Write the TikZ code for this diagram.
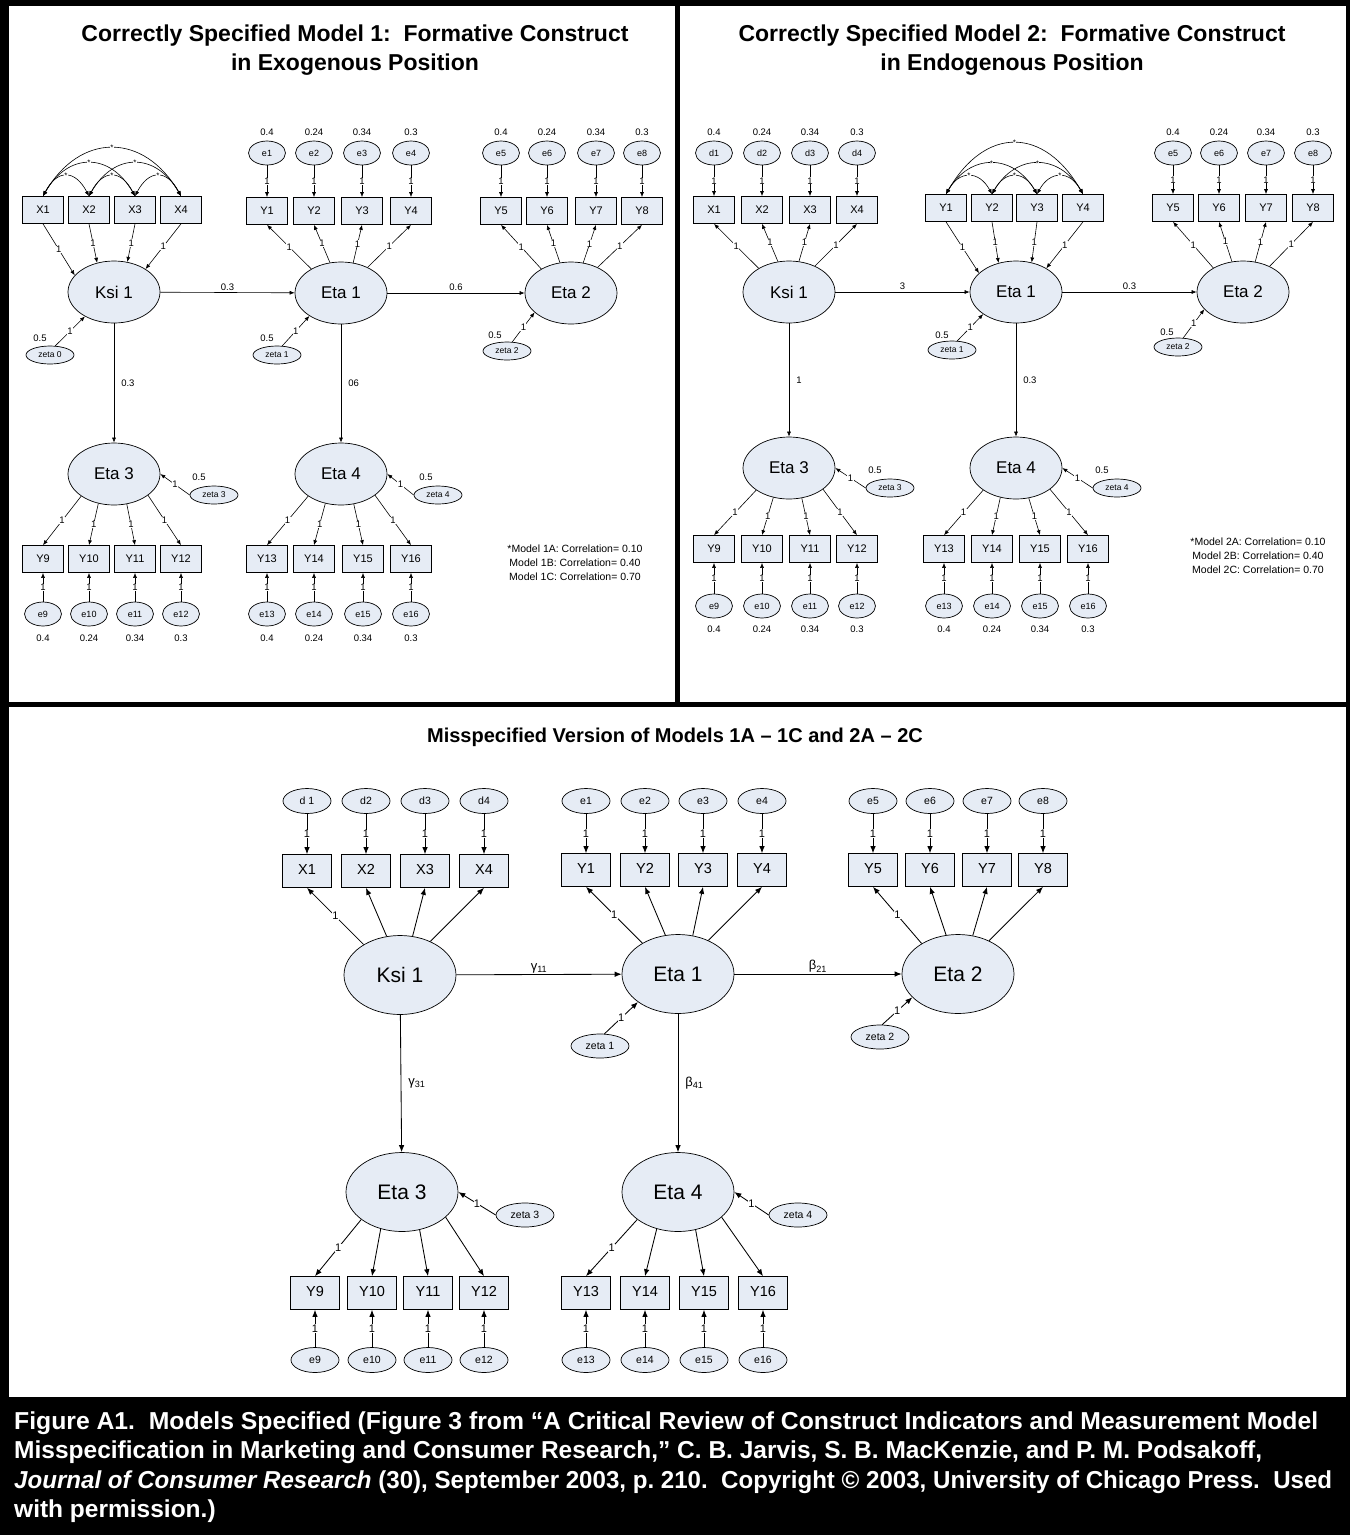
\documentclass[tikz,border=0pt]{standalone}
\usepackage{fontspec}
\usepackage{graphicx}
\setmainfont{Liberation Sans}
\usetikzlibrary{arrows.meta,shapes.geometric}
\definecolor{nodefill}{HTML}{E6ECF5}
\newcommand{\fsz}[1]{\fontsize{#1}{#1}\selectfont}
\newcommand{\dsp}{\hspace{0.556em}}
\begin{document}
\frenchspacing
\begin{tikzpicture}[x=1pt,y=-1pt,
  box/.style={draw, fill=nodefill, rectangle, inner sep=0pt, line width=0.7pt, text height=0.72em, text depth=0pt},
  tbox/.style={box, minimum width=41pt, minimum height=27pt, font=\fsz{11}},
  bbox/.style={box, minimum width=49pt, minimum height=33pt, font=\fsz{14.5}},
  lat/.style={draw, fill=nodefill, ellipse, inner sep=0pt, line width=0.7pt},
  tbig/.style={lat, minimum width=92pt, minimum height=62pt, font=\fsz{17}},
  bbig/.style={lat, minimum width=112pt, minimum height=79pt, font=\fsz{21}},
  tsm/.style={lat, minimum width=37pt, minimum height=24pt, font=\fsz{9}},
  bsm/.style={lat, minimum width=48pt, minimum height=25pt, font=\fsz{10.5}},
  tzeta/.style={lat, minimum width=48pt, minimum height=18pt, font=\fsz{8.5}},
  bzeta/.style={lat, minimum width=58pt, minimum height=24pt, font=\fsz{10.5}},
  val/.style={font=\fsz{9.5}, inner sep=0pt},
  bval/.style={font=\fsz{13}, inner sep=0pt},
  one/.style={font=\fsz{9.5}, fill=white, inner sep=0.4pt},
  bone/.style={font=\fsz{11}, fill=white, inner sep=0.4pt},
  star/.style={font=\fsz{8}, fill=white, inner sep=0.2pt},
  tarr/.style={line width=0.6pt, -{Latex[length=5pt,width=4pt]}},
  barr/.style={line width=0.85pt, -{Latex[length=7pt,width=5.5pt]}},
  corr/.style={line width=0.6pt, {Latex[length=5pt,width=4pt]}-{Latex[length=5pt,width=4pt]}},
  ttl/.style={font=\fsz{23}\bfseries, inner sep=0pt},
  ttlb/.style={font=\fsz{20}\bfseries, inner sep=0pt},
  capt/.style={font=\fsz{24.5}\bfseries, text=white, inner sep=0pt, anchor=base west},
  note/.style={font=\fontsize{10.5}{14}\selectfont, align=center, inner sep=0pt}
]
\useasboundingbox (0,0) rectangle (1350,1535);
\fill[black] (0,0) rectangle (1350,1535);
\fill[white] (9,6) rectangle (675,702);
\fill[white] (680,6) rectangle (1346,702);
\fill[white] (9,707) rectangle (1346,1397);

% ---------- titles ----------
\node[ttl, anchor=base] (t1a) at (355,41) {Correctly Specified Model 1:\dsp Formative Construct};
\node[ttl, anchor=base] (t1b) at (355,70) {in Exogenous Position};
\node[ttl, anchor=base] (t2a) at (1012,41) {Correctly Specified Model 2:\dsp Formative Construct};
\node[ttl, anchor=base] (t2b) at (1012,70) {in Endogenous Position};
\node[ttlb, anchor=base] (t3) at (675,742) {Misspecified Version of Models 1A – 1C and 2A – 2C};

% ---------- caption ----------
\node[capt] (c1) at (14,1429) {\resizebox{1304pt}{\height}{Figure A1.\dsp Models Specified (Figure 3 from “A Critical Review of Construct Indicators and Measurement Model}};
\node[capt] (c2) at (14,1458) {Misspecification in Marketing and Consumer Research,” C. B. Jarvis, S. B. MacKenzie, and P. M. Podsakoff,};
\node[capt] (c3) at (14,1488) {\resizebox{1318pt}{\height}{\textit{Journal of Consumer Research} (30), September 2003, p. 210.\dsp Copyright © 2003, University of Chicago Press.\dsp Used}};
\node[capt] (c4) at (14,1517) {with permission.)};

% ================= PANEL A (top left) =================
\foreach \i/\x in {1/43,2/89,3/135,4/181} \node[tbox] (AX\i) at (\x,210) {X\i};
\draw[corr] (AX1.north) .. controls +(37,-64) and +(-37,-64) .. (AX4.north) node[star,pos=.5]{*};
\draw[corr] (AX1.north) .. controls +(25,-44) and +(-25,-44) .. (AX3.north) node[star,pos=.5]{*};
\draw[corr] (AX2.north) .. controls +(25,-44) and +(-25,-44) .. (AX4.north) node[star,pos=.5]{*};
\draw[corr] (AX1.north) .. controls +(14,-27) and +(-14,-27) .. (AX2.north) node[star,pos=.5]{*};
\draw[corr] (AX2.north) .. controls +(14,-27) and +(-14,-27) .. (AX3.north) node[star,pos=.5]{*};
\draw[corr] (AX3.north) .. controls +(14,-27) and +(-14,-27) .. (AX4.north) node[star,pos=.5]{*};

\node[tbig] (AKsi) at (114,292) {Ksi 1};
\node[tbig] (AEta1) at (341,293) {Eta 1};
\node[tbig] (AEta2) at (571,293) {Eta 2};
\node[tbig] (AEta3) at (114,474) {Eta 3};
\node[tbig] (AEta4) at (341,474) {Eta 4};

\foreach \i/\ang in {1/157,2/120,3/66,4/36} \draw[tarr] (AX\i.south) -- (AKsi.\ang) node[one,pos=.5]{1};

\foreach \i/\x/\v in {1/267/0.4,2/314/0.24,3/362/0.34,4/411/0.3,5/501/0.4,6/547/0.24,7/596/0.34,8/642/0.3} {
  \node[tbox] (AY\i) at (\x,211) {Y\i};
  \node[tsm] (Ae\i) at (\x,153) {e\i};
  \node[val] (Ave\i) at (\x,132) {\v};
  \draw[tarr] (Ae\i) -- (AY\i) node[one,pos=.5]{1};
}
\foreach \i/\ang in {1/141,2/110,3/68,4/44} \draw[tarr] (AEta1.\ang) -- (AY\i.south) node[one,pos=.5]{1};
\foreach \i/\ang in {5/141,6/110,7/68,8/44} \draw[tarr] (AEta2.\ang) -- (AY\i.south) node[one,pos=.5]{1};

\draw[tarr] (AKsi) -- (AEta1) node[val,pos=.5,above=2pt]{0.3};
\draw[tarr] (AEta1) -- (AEta2) node[val,pos=.5,above=2pt]{0.6};
\draw[tarr] (AKsi) -- (AEta3) node[val,pos=.5,right=7pt]{0.3};
\draw[tarr] (AEta1) -- (AEta4) node[val,pos=.5,right=7pt]{06};

\node[tzeta] (Az0) at (50,355) {zeta 0};
\node[val] (Avz0) at (40,338) {0.5};
\draw[tarr] (Az0.60) -- (AKsi.-140) node[one,pos=.5]{1};
\node[tzeta] (Az1) at (277,355) {zeta 1};
\node[val] (Avz1) at (267,338) {0.5};
\draw[tarr] (Az1.60) -- (AEta1.-144) node[one,pos=.5]{1};
\node[tzeta] (Az2) at (507,351) {zeta 2};
\node[val] (Avz2) at (495,335) {0.5};
\draw[tarr] (Az2.60) -- (AEta2.-152) node[one,pos=.5]{1};
\node[tzeta] (Az3) at (214,495) {zeta 3};
\node[val] (Avz3) at (199,477) {0.5};
\draw[tarr] (Az3.west) -- (AEta3.east) node[one,pos=.5]{1};
\node[tzeta] (Az4) at (438,495) {zeta 4};
\node[val] (Avz4) at (426,477) {0.5};
\draw[tarr] (Az4.west) -- (AEta4.east) node[one,pos=.5]{1};

\foreach \i/\x/\v in {9/43/0.4,10/89/0.24,11/135/0.34,12/181/0.3,13/267/0.4,14/314/0.24,15/363/0.34,16/411/0.3} {
  \node[tbox] (AY\i) at (\x,559) {Y\i};
  \node[tsm] (Ae\i) at (\x,614) {e\i};
  \node[val] (Ave\i) at (\x,638) {\v};
  \draw[tarr] (Ae\i) -- (AY\i) node[one,pos=.5]{1};
}
\foreach \i/\ang in {9/-146,10/-118,11/-67,12/-32} \draw[tarr] (AEta3.\ang) -- (AY\i.north) node[one,pos=.5]{1};
\foreach \i/\ang in {13/-146,14/-118,15/-67,16/-32} \draw[tarr] (AEta4.\ang) -- (AY\i.north) node[one,pos=.5]{1};

\node[note] (Anote) at (575,563) {*Model 1A: Correlation= 0.10\\Model 1B: Correlation= 0.40\\Model 1C: Correlation= 0.70};

% ================= PANEL B (top right) =================
\node[tbig] (BKsi) at (789,292) {Ksi 1};
\node[tbig] (BEta1) at (1016,292) {Eta 1};
\node[tbig] (BEta2) at (1243,292) {Eta 2};
\node[tbig] (BEta3) at (789,468) {Eta 3};
\node[tbig] (BEta4) at (1016,468) {Eta 4};

\foreach \i/\x/\v in {1/714/0.4,2/762/0.24,3/810/0.34,4/857/0.3} {
  \node[tbox] (BX\i) at (\x,210) {X\i};
  \node[tsm] (Bd\i) at (\x,153) {d\i};
  \node[val] (Bvd\i) at (\x,132) {\v};
  \draw[tarr] (Bd\i) -- (BX\i) node[one,pos=.5]{1};
}
\foreach \i/\ang in {1/142,2/110,3/72,4/45} \draw[tarr] (BKsi.\ang) -- (BX\i.south) node[one,pos=.5]{1};

\foreach \i/\x in {1/946,2/992,3/1037,4/1083} \node[tbox] (BY\i) at (\x,208) {Y\i};
\draw[corr] (BY1.north) .. controls +(39,-68) and +(-39,-68) .. (BY4.north) node[star,pos=.5]{*};
\draw[corr] (BY1.north) .. controls +(24,-41) and +(-24,-41) .. (BY3.north) node[star,pos=.5]{*};
\draw[corr] (BY2.north) .. controls +(24,-41) and +(-24,-41) .. (BY4.north) node[star,pos=.5]{*};
\draw[corr] (BY1.north) .. controls +(13,-24) and +(-13,-24) .. (BY2.north) node[star,pos=.5]{*};
\draw[corr] (BY2.north) .. controls +(13,-24) and +(-13,-24) .. (BY3.north) node[star,pos=.5]{*};
\draw[corr] (BY3.north) .. controls +(13,-24) and +(-13,-24) .. (BY4.north) node[star,pos=.5]{*};
\foreach \i/\ang in {1/153,2/121,3/62,4/38} \draw[tarr] (BY\i.south) -- (BEta1.\ang) node[one,pos=.5]{1};

\foreach \i/\x/\v in {5/1173/0.4,6/1219/0.24,7/1266/0.34,8/1313/0.3} {
  \node[tbox] (BY\i) at (\x,208) {Y\i};
  \node[tsm] (Be\i) at (\x,153) {e\i};
  \node[val] (Bve\i) at (\x,132) {\v};
  \draw[tarr] (Be\i) -- (BY\i) node[one,pos=.5]{1};
}
\foreach \i/\ang in {5/141,6/110,7/68,8/44} \draw[tarr] (BEta2.\ang) -- (BY\i.south) node[one,pos=.5]{1};

\draw[tarr] (BKsi) -- (BEta1) node[val,pos=.5,above=2pt]{3};
\draw[tarr] (BEta1) -- (BEta2) node[val,pos=.5,above=2pt]{0.3};
\draw[tarr] (BKsi) -- (BEta3) node[val,pos=.5,right=7pt]{1};
\draw[tarr] (BEta1) -- (BEta4) node[val,pos=.5,right=7pt]{0.3};

\node[tzeta] (Bz1) at (952,350) {zeta 1};
\node[val] (Bvz1) at (942,335) {0.5};
\draw[tarr] (Bz1.60) -- (BEta1.-146) node[one,pos=.5]{1};
\node[tzeta] (Bz2) at (1178,347) {zeta 2};
\node[val] (Bvz2) at (1167,332) {0.5};
\draw[tarr] (Bz2.60) -- (BEta2.-156) node[one,pos=.5]{1};
\node[tzeta] (Bz3) at (890,488) {zeta 3};
\node[val] (Bvz3) at (875,470) {0.5};
\draw[tarr] (Bz3.west) -- (BEta3.east) node[one,pos=.5]{1};
\node[tzeta] (Bz4) at (1117,488) {zeta 4};
\node[val] (Bvz4) at (1102,470) {0.5};
\draw[tarr] (Bz4.west) -- (BEta4.east) node[one,pos=.5]{1};

\foreach \i/\x/\v in {9/714/0.4,10/762/0.24,11/810/0.34,12/857/0.3,13/944/0.4,14/992/0.24,15/1040/0.34,16/1088/0.3} {
  \node[tbox] (BY\i) at (\x,549) {Y\i};
  \node[tsm] (Be\i) at (\x,606) {e\i};
  \node[val] (Bve\i) at (\x,629) {\v};
  \draw[tarr] (Be\i) -- (BY\i) node[one,pos=.5]{1};
}
\foreach \i/\ang in {9/-146,10/-118,11/-67,12/-32} \draw[tarr] (BEta3.\ang) -- (BY\i.north) node[one,pos=.5]{1};
\foreach \i/\ang in {13/-146,14/-118,15/-67,16/-32} \draw[tarr] (BEta4.\ang) -- (BY\i.north) node[one,pos=.5]{1};

\node[note] (Bnote) at (1258,556) {*Model 2A: Correlation= 0.10\\Model 2B: Correlation= 0.40\\Model 2C: Correlation= 0.70};

% ================= PANEL C (bottom) =================
\node[bbig] (CKsi) at (400,975) {Ksi 1};
\node[bbig] (CEta1) at (678,974) {Eta 1};
\node[bbig] (CEta2) at (958,974) {Eta 2};
\node[bbig] (CEta3) at (402,1192) {Eta 3};
\node[bbig] (CEta4) at (678,1192) {Eta 4};

\foreach \i/\x/\t in {1/307/d 1,2/366/d2,3/425/d3,4/484/d4} {
  \node[bbox] (CX\i) at (\x,871) {X\i};
  \node[bsm] (Cd\i) at (\x,801) {\t};
  \draw[barr] (Cd\i) -- (CX\i) node[bone,pos=.5]{1};
}
\foreach \i/\x in {1/586,2/645,3/703,4/762,5/873,6/930,7/987,8/1043} {
  \node[bbox] (CY\i) at (\x,870) {Y\i};
  \node[bsm] (Ce\i) at (\x,801) {e\i};
  \draw[barr] (Ce\i) -- (CY\i) node[bone,pos=.5]{1};
}
\draw[barr] (CKsi.140) -- (CX1.south) node[bone,pos=.5]{1};
\foreach \i/\ang in {2/109,3/72,4/48} \draw[barr] (CKsi.\ang) -- (CX\i.south);
\draw[barr] (CEta1.139) -- (CY1.south) node[bone,pos=.5]{1};
\foreach \i/\ang in {2/108,3/69,4/48} \draw[barr] (CEta1.\ang) -- (CY\i.south);
\draw[barr] (CEta2.140) -- (CY5.south) node[bone,pos=.5]{1};
\foreach \i/\ang in {6/107,7/69,8/47} \draw[barr] (CEta2.\ang) -- (CY\i.south);

\draw[barr] (CKsi) -- (CEta1) node[bval,pos=.5,above=1pt]{γ\textsubscript{11}};
\draw[barr] (CEta1) -- (CEta2) node[bval,pos=.5,above=1pt]{β\textsubscript{21}};
\draw[barr] (CKsi) -- (CEta3) node[bval,pos=.5,right=7pt]{γ\textsubscript{31}};
\draw[barr] (CEta1) -- (CEta4) node[bval,pos=.5,right=7pt]{β\textsubscript{41}};

\node[bzeta] (Cz1) at (600,1046) {zeta 1};
\draw[barr] (Cz1.70) -- (CEta1.-145) node[bone,pos=.5]{1};
\node[bzeta] (Cz2) at (880,1037) {zeta 2};
\draw[barr] (Cz2.80) -- (CEta2.-153) node[bone,pos=.5]{1};
\node[bzeta] (Cz3) at (525,1215) {zeta 3};
\draw[barr] (Cz3.west) -- (CEta3.east) node[bone,pos=.5]{1};
\node[bzeta] (Cz4) at (798,1215) {zeta 4};
\draw[barr] (Cz4.west) -- (CEta4.east) node[bone,pos=.5]{1};

\foreach \i/\x in {9/315,10/372,11/428,12/484,13/586,14/645,15/704,16/763} {
  \node[bbox] (CY\i) at (\x,1293) {Y\i};
  \node[bsm] (Ce\i) at (\x,1360) {e\i};
  \draw[barr] (Ce\i) -- (CY\i) node[bone,pos=.5]{1};
}
\draw[barr] (CEta3.-146) -- (CY9.north) node[bone,pos=.5]{1};
\foreach \i/\ang in {10/-120,11/-65,12/-30} \draw[barr] (CEta3.\ang) -- (CY\i.north);
\draw[barr] (CEta4.-146) -- (CY13.north) node[bone,pos=.5]{1};
\foreach \i/\ang in {14/-120,15/-65,16/-30} \draw[barr] (CEta4.\ang) -- (CY\i.north);
\end{tikzpicture}
\end{document}
